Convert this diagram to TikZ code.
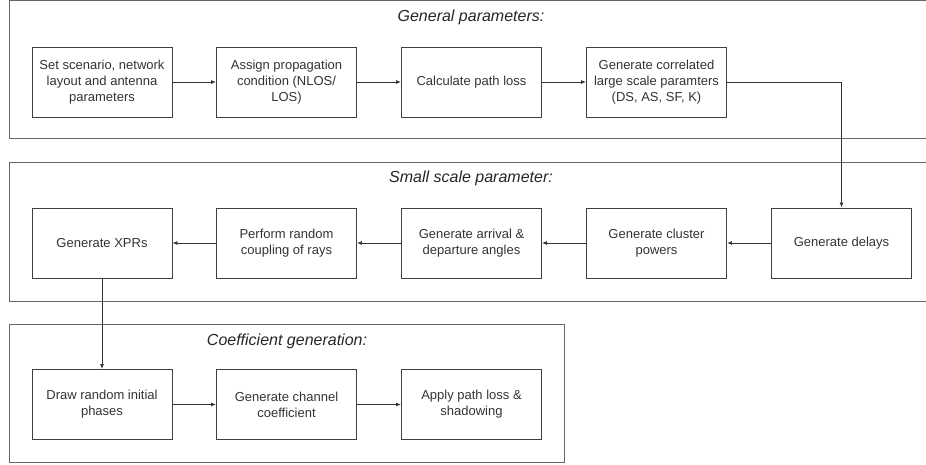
\documentclass[tikz,border=0pt]{standalone}
\usepackage{fontspec}
\setmainfont{Liberation Sans}
\usetikzlibrary{arrows.meta}
\begin{document}
\begin{tikzpicture}[x=1pt, y=-1pt,
    stage/.style={draw=black!75, line width=0.9pt, minimum width=140pt, minimum height=70pt,
        inner sep=0pt, align=center, text=black!80, font=\fontsize{13}{16}\selectfont},
    group/.style={draw=black!60, line width=1pt},
    grouptitle/.style={text=black!85, font=\fontsize{16}{19}\selectfont\itshape},
    flow/.style={draw=black!80, line width=0.9pt, -{Latex[length=5pt, width=4pt]}}]
    \useasboundingbox (0,0) rectangle (926,465);
    % group frames
    \draw[group] (930,1) -- (9,1) -- (9,139) -- (930,139);
    \draw[group] (930,163) -- (9,163) -- (9,301) -- (930,301);
    \draw[group] (9,324) rectangle (564,462);
    \node[grouptitle] (tgen) at (471,17) {General parameters:};
    \node[grouptitle] (tsmall) at (471,178) {Small scale parameter:};
    \node[grouptitle] (tcoef) at (287,341) {Coefficient generation:};
    % general parameters
    \node[stage] (scen) at (102,82) {Set scenario, network\\layout and antenna\\parameters};
    \node[stage] (prop) at (286.5,82) {Assign propagation\\condition (NLOS/\\LOS)};
    \node[stage] (ploss) at (471.5,82) {Calculate path loss};
    \node[stage] (lsp) at (656.5,82) {Generate correlated\\large scale paramters\\(DS, AS, SF, K)};
    % small scale parameter
    \node[stage] (xpr) at (102,243) {Generate XPRs};
    \node[stage] (coup) at (286.5,243) {Perform random\\coupling of rays};
    \node[stage] (angl) at (471.5,243) {Generate arrival \&\\departure angles};
    \node[stage] (pow) at (656.5,243) {Generate cluster\\powers};
    \node[stage] (del) at (841.5,243) {Generate delays};
    % coefficient generation
    \node[stage] (phas) at (102,404.5) {Draw random initial\\phases};
    \node[stage] (coef) at (286.5,404.5) {Generate channel\\coefficient};
    \node[stage] (shad) at (471.5,404.5) {Apply path loss \&\\shadowing};
    % connectors
    \draw[flow] (scen) -- (prop);
    \draw[flow] (prop) -- (ploss);
    \draw[flow] (ploss) -- (lsp);
    \draw[flow] (lsp.east) -| (del.north);
    \draw[flow] (del) -- (pow);
    \draw[flow] (pow) -- (angl);
    \draw[flow] (angl) -- (coup);
    \draw[flow] (coup) -- (xpr);
    \draw[flow] (xpr.south) -- (phas.north);
    \draw[flow] (phas) -- (coef);
    \draw[flow] (coef) -- (shad);
\end{tikzpicture}
\end{document}
